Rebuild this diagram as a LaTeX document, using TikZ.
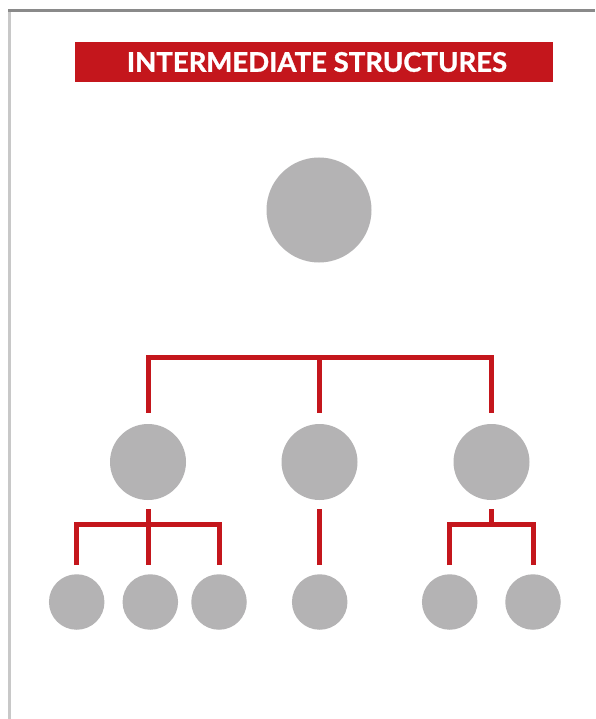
\documentclass[tikz,border=0pt]{standalone}
\usepackage{fontspec}
\setmainfont{Lato}[BoldFeatures={FakeBold=1.2}]
\definecolor{brandred}{HTML}{C4161C}
\definecolor{discgray}{HTML}{B4B3B4}
\definecolor{framedark}{HTML}{8A8A8A}
\definecolor{framelight}{HTML}{C8C8C8}
\tikzset{
  disc/.style={circle, fill=discgray, inner sep=0pt, minimum size=#1},
  link/.style={draw=brandred, line width=5pt, line cap=butt, line join=miter},
  titlebar/.style={fill=brandred, minimum width=478pt, minimum height=40pt, inner sep=0pt,
    text=white, font=\bfseries\fontsize{27}{27}\selectfont},
}
\begin{document}
\begin{tikzpicture}[x=1pt,y=-1pt]
\useasboundingbox (0,0) rectangle (595,719);
\fill[white] (0,0) rectangle (595,719);
% frame
\draw[line width=2.5pt, draw=framedark] (8,10.7) -- (595,10.7);
\draw[line width=2.5pt, draw=framelight] (9.5,12) -- (9.5,719);
% title
\node[titlebar] (title) at (314,62) {\hspace*{6pt}\scalebox{1.02}[1]{INTERMEDIATE STRUCTURES}};
% nodes
\node[disc=105pt] (top) at (319,210) {};
\node[disc=76pt] (m1) at (148,462) {};
\node[disc=76pt] (m2) at (319.5,462) {};
\node[disc=76pt] (m3) at (491.5,462) {};
\node[disc=55.5pt] (s1) at (76.7,602) {};
\node[disc=55.5pt] (s2) at (150.3,602) {};
\node[disc=55.5pt] (s3) at (219,602) {};
\node[disc=55.5pt] (s4) at (319.7,602) {};
\node[disc=55.5pt] (s5) at (449.7,602) {};
\node[disc=55.5pt] (s6) at (533,602) {};
% helper levels
\coordinate (hb) at (0,357.5);
\coordinate (hl) at (0,524.5);
% top bracket
\draw[link] ([yshift=11pt]m1.north) -- (m1.north |- hb) -- (m3.north |- hb) -- ([yshift=11pt]m3.north);
\draw[link] (m2.north |- hb) -- ([yshift=11pt]m2.north);
% left group
\draw[link] ([yshift=9pt]s1.north) -- (s1.north |- hl) -- (s3.north |- hl) -- ([yshift=9pt]s3.north);
\draw[link] ([yshift=-9pt]m1.south) -- ([yshift=9pt]m1.south |- s2.north);
% middle group
\draw[link] ([yshift=-9pt]m2.south) -- ([yshift=9pt]m2.south |- s4.north);
% right group
\draw[link] ([yshift=9pt]s5.north) -- (s5.north |- hl) -- (s6.north |- hl) -- ([yshift=9pt]s6.north);
\draw[link] ([yshift=-9pt]m3.south) -- (m3.south |- hl);
\end{tikzpicture}
\end{document}
